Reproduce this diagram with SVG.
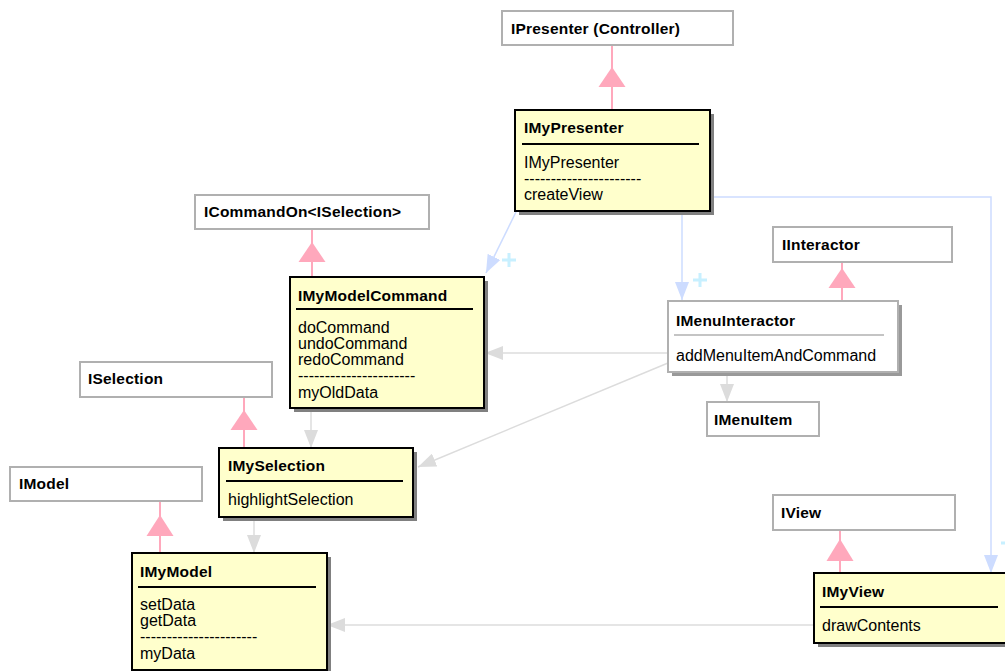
<svg xmlns="http://www.w3.org/2000/svg" width="1005" height="671" viewBox="0 0 1005 671">
<style>
.t{font-family:"Liberation Sans",Arial,Helvetica,sans-serif;font-size:16px;fill:#000}
.b{font-weight:bold;font-size:15.5px;letter-spacing:0.2px}
.iface{fill:#fff;stroke:#b0b0b0;stroke-width:2}
.cls{fill:#ffffcc;stroke:#000;stroke-width:2}
.shadow{fill:#808080}
.sep{stroke:#000;stroke-width:2}
.sepg{stroke:#b0b0b0;stroke-width:1.5}
.gen{stroke:#ffa8bc;stroke-width:2;fill:none}
.tri{fill:#ffa8bc}
.dep{stroke:#dcdcdc;stroke-width:1.5;fill:none;marker-end:url(#ag)}
.assoc{stroke:#cddcff;stroke-width:1.5;fill:none;marker-end:url(#ab)}
.plus{stroke:#c8f0ff;stroke-width:3;fill:none}
</style>
<defs>
<marker id="ag" markerUnits="userSpaceOnUse" markerWidth="18" markerHeight="14" refX="18" refY="7" orient="auto" viewBox="0 0 18 14">
<path d="M0,0 L18,7 L0,14 z" fill="#dcdcdc"/>
</marker>
<marker id="ab" markerUnits="userSpaceOnUse" markerWidth="18" markerHeight="14" refX="18" refY="7" orient="auto" viewBox="0 0 18 14">
<path d="M0,0 L18,7 L0,14 z" fill="#cddcff"/>
</marker>
</defs>
<rect width="1005" height="671" fill="#fff"/>
<g id="connectors">
<line class="gen" x1="612" y1="45" x2="612" y2="110"/>
<polygon class="tri" points="612,67 598.5,87 625.5,87"/>
<line class="gen" x1="312" y1="229" x2="312" y2="277"/>
<polygon class="tri" points="312,242 298.5,262 325.5,262"/>
<line class="gen" x1="244" y1="397" x2="244" y2="448"/>
<polygon class="tri" points="244,410 230.5,430 257.5,430"/>
<line class="gen" x1="160" y1="501" x2="160" y2="553"/>
<polygon class="tri" points="160,515 146.5,536 173.5,536"/>
<line class="gen" x1="842" y1="262" x2="842" y2="301"/>
<polygon class="tri" points="842,268 828.5,288 855.5,288"/>
<line class="gen" x1="840" y1="530" x2="840" y2="573"/>
<polygon class="tri" points="840,539 826.5,561 853.5,561"/>
<line class="dep" x1="311" y1="408" x2="311" y2="448"/>
<line class="dep" x1="254" y1="517" x2="254" y2="553"/>
<line class="dep" x1="727" y1="372" x2="727" y2="402"/>
<line class="dep" x1="668" y1="353" x2="485" y2="353"/>
<line class="dep" x1="668" y1="363" x2="418" y2="467"/>
<line class="dep" x1="814" y1="625" x2="327" y2="625"/>
<polyline class="assoc" points="710,197 991,197 991,573"/>
<line class="assoc" x1="682" y1="211" x2="682" y2="300"/>
<line class="assoc" x1="516" y1="212" x2="486" y2="273"/>
<path class="plus" d="M502,260 H516 M509,253 V267"/>
<path class="plus" d="M693,280 H707 M700,273 V287"/>
<path class="plus" d="M1001,543 H1015 M1008,536 V550"/>
</g>
<g id="IPresenter">
<rect class="iface" x="502" y="11" width="231" height="34"/>
<text class="t b" x="511" y="34">IPresenter (Controller)</text>
</g>
<g id="IMyPresenter">
<rect class="shadow" x="519" y="114" width="195" height="101"/>
<rect class="cls" x="515" y="110" width="195" height="101"/>
<text class="t b" x="524" y="133">IMyPresenter</text>
<line class="sep" x1="522" y1="144" x2="699" y2="144"/>
<text class="t" x="524" y="168">IMyPresenter</text>
<text class="t" x="524" y="184">----------------------</text>
<text class="t" x="524" y="200">createView</text>
</g>
<g id="ICommandOn">
<rect class="iface" x="195" y="195" width="234" height="34"/>
<text class="t b" x="204" y="217">ICommandOn&lt;ISelection&gt;</text>
</g>
<g id="IMyModelCommand">
<rect class="shadow" x="294" y="281" width="194" height="131"/>
<rect class="cls" x="290" y="277" width="194" height="131"/>
<text class="t b" x="298" y="301">IMyModelCommand</text>
<line class="sep" x1="296" y1="309" x2="473" y2="309"/>
<text class="t" x="298" y="333">doCommand</text>
<text class="t" x="298" y="349">undoCommand</text>
<text class="t" x="298" y="365">redoCommand</text>
<text class="t" x="298" y="381">----------------------</text>
<text class="t" x="298" y="398">myOldData</text>
</g>
<g id="ISelection">
<rect class="iface" x="80" y="362" width="192" height="35"/>
<text class="t b" x="88" y="384">ISelection</text>
</g>
<g id="IMySelection">
<rect class="shadow" x="223" y="452" width="194" height="69"/>
<rect class="cls" x="219" y="448" width="194" height="69"/>
<text class="t b" x="228" y="471">IMySelection</text>
<line class="sep" x1="226" y1="481" x2="403" y2="481"/>
<text class="t" x="228" y="505">highlightSelection</text>
</g>
<g id="IModel">
<rect class="iface" x="10" y="467" width="192" height="34"/>
<text class="t b" x="19" y="489">IModel</text>
</g>
<g id="IMyModel">
<rect class="shadow" x="136" y="557" width="195" height="117"/>
<rect class="cls" x="132" y="553" width="195" height="117"/>
<text class="t b" x="140" y="577">IMyModel</text>
<line class="sep" x1="138" y1="587" x2="316" y2="587"/>
<text class="t" x="140" y="610">setData</text>
<text class="t" x="140" y="626">getData</text>
<text class="t" x="140" y="642">----------------------</text>
<text class="t" x="140" y="659">myData</text>
</g>
<g id="IInteractor">
<rect class="iface" x="773" y="227" width="179" height="35"/>
<text class="t b" x="782" y="250">IInteractor</text>
</g>
<g id="IMenuInteractor">
<rect fill="#999" x="672" y="305" width="230" height="71"/>
<rect class="iface" x="668" y="301" width="230" height="71"/>
<text class="t b" x="676" y="326">IMenuInteractor</text>
<line class="sepg" x1="674" y1="335" x2="884" y2="335"/>
<text class="t" x="676" y="361">addMenuItemAndCommand</text>
</g>
<g id="IMenuItem">
<rect class="iface" x="707" y="402" width="112" height="34"/>
<text class="t b" x="714" y="425">IMenuItem</text>
</g>
<g id="IView">
<rect class="iface" x="773" y="495" width="182" height="35"/>
<text class="t b" x="781" y="518">IView</text>
</g>
<g id="IMyView">
<rect class="shadow" x="818" y="577" width="195" height="70"/>
<rect class="cls" x="814" y="573" width="195" height="70"/>
<text class="t b" x="822" y="597">IMyView</text>
<line class="sep" x1="820" y1="607" x2="998" y2="607"/>
<text class="t" x="822" y="631">drawContents</text>
</g>
</svg>
